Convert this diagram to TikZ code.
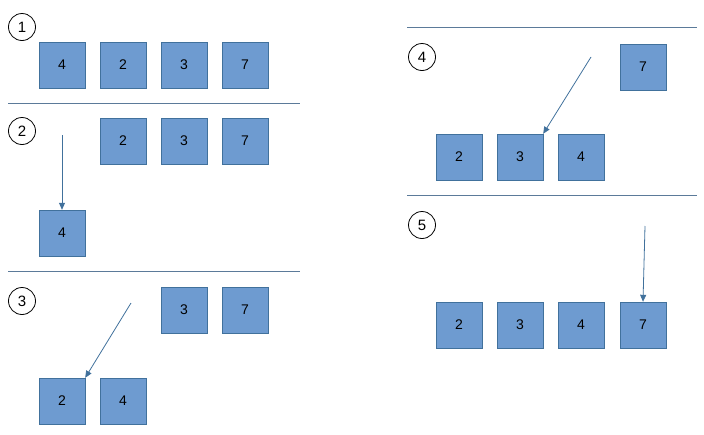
\documentclass[tikz,border=0pt]{standalone}
\usepackage{fontspec}
\setmainfont{Liberation Sans}
\usetikzlibrary{positioning,arrows.meta}
\definecolor{boxfill}{HTML}{6E9BD0}
\definecolor{boxline}{HTML}{41719C}
\definecolor{rulecol}{HTML}{5B7A99}
\tikzset{
  num/.style={draw=boxline, fill=boxfill, minimum size=46pt, inner sep=0pt, font=\fontsize{14}{16}\selectfont},
  stepnum/.style={draw, circle, thick, minimum size=27pt, inner sep=0pt, font=\fontsize{15}{17}\selectfont},
  move/.style={-{Triangle[length=7pt,width=6pt]}, draw=boxline, thick}
}
\begin{document}
\begin{tikzpicture}[x=1pt,y=-1pt]
\useasboundingbox (0,0) rectangle (704,434);

% step 1
\node[stepnum] (s1) at (22,27) {1};
\node[num] (a4) at (62,65) {4};
\node[num] (a2) at (123,65) {2};
\node[num] (a3) at (184,65) {3};
\node[num] (a7) at (245,65) {7};
\coordinate (l1a) at (8,103); \coordinate (l1b) at (300,103);
\draw[rulecol] (l1a) -- (l1b);

% step 2
\node[stepnum] (s2) at (22,131) {2};
\node[num] (b2) at (123,141) {2};
\node[num] (b3) at (184,141) {3};
\node[num] (b7) at (245,141) {7};
\node[num] (b4) at (62,233) {4};
\coordinate (m2) at (62,135);
\draw[move] (m2) -- (b4.north);
\coordinate (l2a) at (8,271); \coordinate (l2b) at (300,271);
\draw[rulecol] (l2a) -- (l2b);

% step 3
\node[stepnum] (s3) at (22,301) {3};
\node[num] (c3) at (184,310) {3};
\node[num] (c7) at (245,310) {7};
\node[num] (c2) at (62,401) {2};
\node[num] (c4) at (123,401) {4};
\coordinate (m3) at (131,303);
\draw[move] (m3) -- (c2.north east);

% step 4
\coordinate (l3a) at (407,27); \coordinate (l3b) at (697,27);
\draw[rulecol] (l3a) -- (l3b);
\node[stepnum] (s4) at (422,57) {4};
\node[num] (d7) at (643,67) {7};
\node[num] (d2) at (459,157) {2};
\node[num] (d3) at (520,157) {3};
\node[num] (d4) at (581,157) {4};
\coordinate (m4) at (591,57);
\draw[move] (m4) -- (d3.north east);
\coordinate (l4a) at (407,195); \coordinate (l4b) at (697,195);
\draw[rulecol] (l4a) -- (l4b);

% step 5
\node[stepnum] (s5) at (422,225) {5};
\node[num] (e2) at (459,325) {2};
\node[num] (e3) at (520,325) {3};
\node[num] (e4) at (581,325) {4};
\node[num] (e7) at (643,325) {7};
\coordinate (m5) at (645,226);
\draw[move] (m5) -- (e7.north);
\end{tikzpicture}
\end{document}
